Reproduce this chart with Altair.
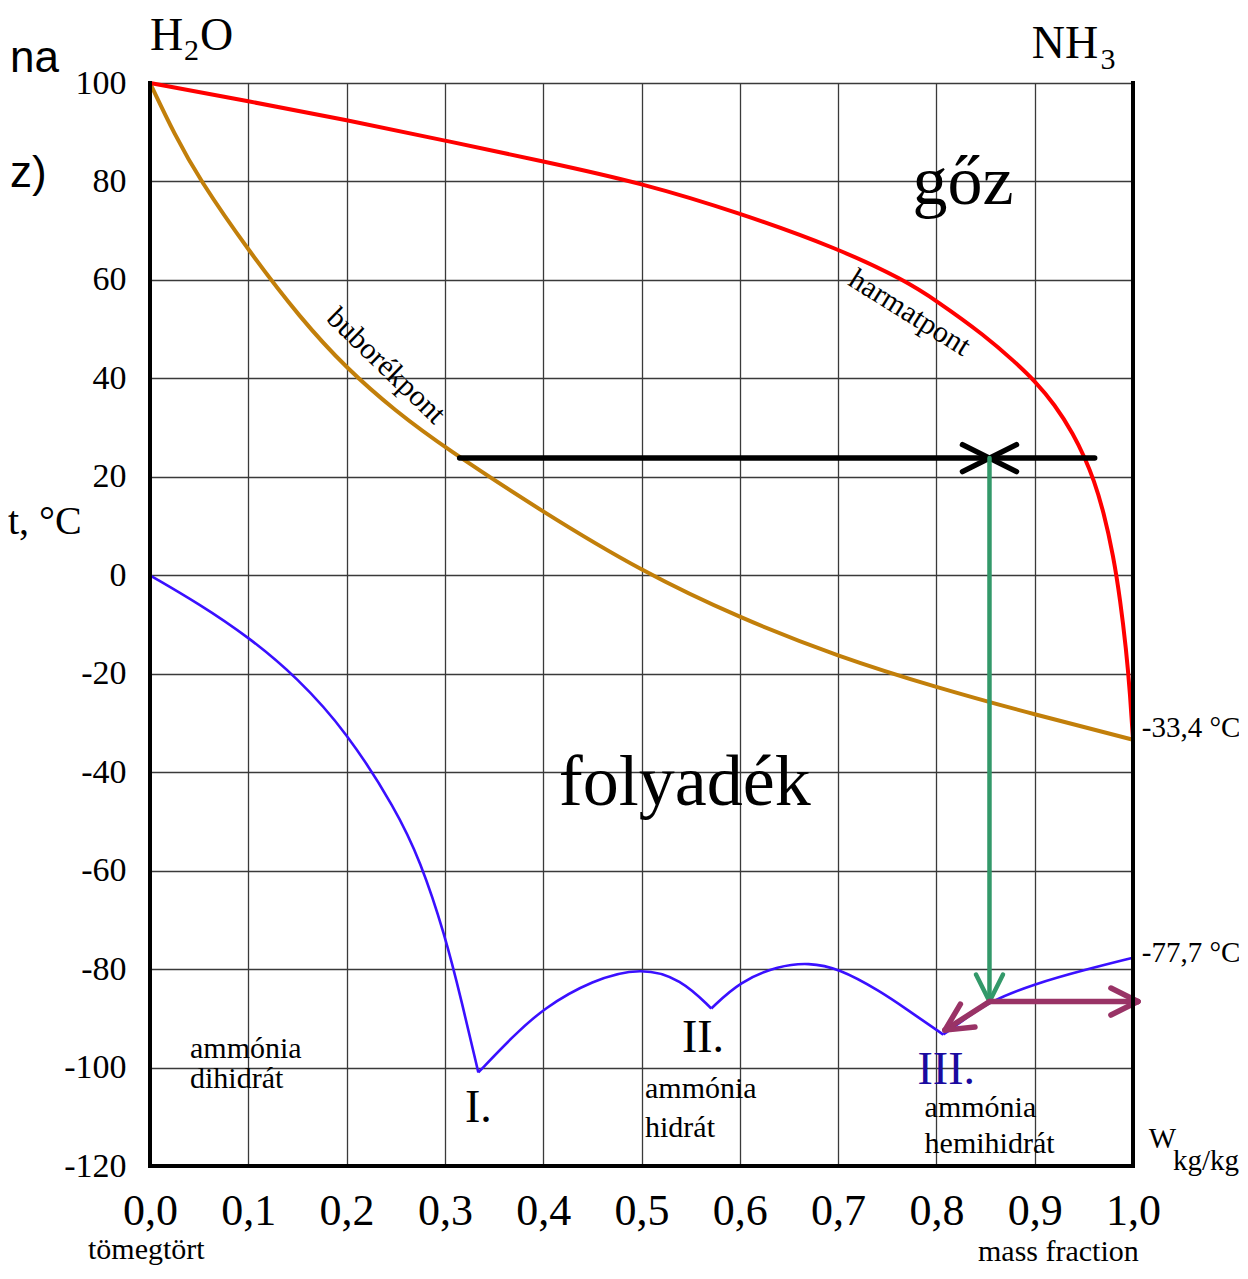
import math
import altair as alt
import pandas as pd

# ---------------- data ----------------
X_TICKS = [0.0, 0.1, 0.2, 0.3, 0.4, 0.5, 0.6, 0.7, 0.8, 0.9, 1.0]
Y_TICKS = [-120, -100, -80, -60, -40, -20, 0, 20, 40, 60, 80, 100]

# dew point curve (harmatpont)
DEW_W = [0.0, 0.1, 0.2, 0.3, 0.4, 0.5, 0.6, 0.7, 0.767, 0.8, 0.85, 0.88, 0.9, 0.92, 0.94, 0.951, 0.96,
         0.97, 0.98, 0.987, 0.993, 0.997, 1.0]
DEW_T = [100, 96.3, 92.5, 88.3, 84.1, 79.7, 73.6, 66.4, 60, 55.8, 48.6, 43.3, 39.5, 34.8, 28.5, 23.8, 19.5,
         13, 4, -5, -15, -24, -33.4]

# bubble point curve (buborékpont)
BUB_W = [0.0, 0.025, 0.05, 0.1, 0.153, 0.2, 0.25, 0.3, 0.4, 0.5, 0.6, 0.7, 0.8, 0.9, 1.0]
BUB_T = [100, 89.5, 80.5, 66.0, 52.2, 42.0, 33.3, 25.9, 12.8, 0.8, -8.7, -16.5, -22.8, -28.3, -33.4]

# freezing curve, four branches
FRZ1_W = [0.0, 0.05, 0.1, 0.15, 0.2, 0.25, 0.275, 0.3, 0.317, 0.334]
FRZ1_T = [0, -5.8, -12.5, -20.8, -31.8, -47.5, -58, -73, -86.5, -101]
FRZ2_W = [0.334, 0.37, 0.4, 0.45, 0.5, 0.54, 0.571]
FRZ2_T = [-101, -93.5, -88, -82.2, -79.6, -82.0, -88]
FRZ3_W = [0.571, 0.6, 0.64, 0.67, 0.7, 0.743, 0.77, 0.807]
FRZ3_T = [-88, -82.5, -79.3, -78.7, -79.8, -84.5, -88.2, -93.3]
FRZ4_W = [0.807, 0.83, 0.854, 0.9, 0.95, 1.0]
FRZ4_T = [-93.3, -90, -86.6, -83, -80.2, -77.7]

# process arrows: (start_w, start_t, tip_w, tip_t)
BLACK_ARROWS = [(0.315, 23.8, 0.854, 23.8), (0.961, 23.8, 0.854, 23.8)]
GREEN_ARROWS = [(0.854, 23.8, 0.854, -86.6)]
PURPLE_ARROWS = [(0.854, -86.6, 1.005, -86.6), (0.854, -86.6, 0.8087, -92.4)]

# ---------------- geometry helpers ----------------
PLOT_W = 983
PLOT_H = 1083
X_DOM = [0.0, 1.0]
Y_DOM = [-120, 100]


def to_px(w, t):
    return w * PLOT_W, -(t - Y_DOM[0]) * PLOT_H / (Y_DOM[1] - Y_DOM[0])


def from_px(px, py):
    return px / PLOT_W, Y_DOM[0] - py * (Y_DOM[1] - Y_DOM[0]) / PLOT_H


def arrow_segments(arrows, length=27, half=13.5):
    rows = []
    for (sw, st, ew, et) in arrows:
        rows.append(dict(x=sw, y=st, x2=ew, y2=et))
        sx, sy = to_px(sw, st)
        tx, ty = to_px(ew, et)
        dx, dy = tx - sx, ty - sy
        L = math.hypot(dx, dy)
        ux, uy = dx / L, dy / L
        bx, by = tx - ux * length, ty - uy * length
        nx, ny = -uy, ux
        for sgn in (1, -1):
            aw, at = from_px(bx + sgn * nx * half, by + sgn * ny * half)
            rows.append(dict(x=aw, y=at, x2=ew, y2=et))
    return pd.DataFrame(rows)


SERIF = "Liberation Serif"
SANS = "Liberation Sans"

xs = alt.Scale(domain=X_DOM, nice=False, zero=False)
ys = alt.Scale(domain=Y_DOM, nice=False, zero=False)

AX_X = alt.Axis(
    values=X_TICKS, labelExpr="replace(format(datum.value, '.1f'), '.', ',')",
    labelFont=SERIF, labelFontSize=44, labelColor="black", labelPadding=23,
    labelFlush=False, labelOverlap=False, grid=True, gridColor="#3a3a3a",
    gridWidth=1.3, domain=False, ticks=False, title=None)
AX_Y = alt.Axis(
    values=Y_TICKS, labelExpr="'' + datum.value",
    labelFont=SERIF, labelFontSize=34, labelColor="black", labelPadding=24,
    labelFlush=False, labelOverlap=False, grid=True, gridColor="#3a3a3a",
    gridWidth=1.3, domain=False, ticks=False, title=None)


def X(field):
    return alt.X(field, type="quantitative", scale=xs, axis=AX_X, title=None)


def Y(field):
    return alt.Y(field, type="quantitative", scale=ys, axis=AX_Y, title=None)


def curve(ws, ts, color, width):
    df = pd.DataFrame({"w": ws, "t": ts})
    return alt.Chart(df).mark_line(color=color, strokeWidth=width, interpolate="basis").encode(
        x=X("w"), y=Y("t"))


layers = []
layers.append(curve(BUB_W, BUB_T, "#c27f0a", 4))
layers.append(curve(DEW_W, DEW_T, "#ff0000", 4))
for ws, ts in [(FRZ1_W, FRZ1_T), (FRZ2_W, FRZ2_T), (FRZ3_W, FRZ3_T), (FRZ4_W, FRZ4_T)]:
    layers.append(curve(ws, ts, "#3a10ff", 2.6))


def segs_layer(df, color, width, cap="round"):
    return alt.Chart(df).mark_rule(color=color, strokeWidth=width, strokeCap=cap).encode(
        x=X("x"), y=Y("y"), x2="x2:Q", y2="y2:Q")


layers.append(segs_layer(arrow_segments(BLACK_ARROWS), "#000000", 5.5))
layers.append(segs_layer(arrow_segments(GREEN_ARROWS), "#33996a", 4.5))
layers.append(segs_layer(arrow_segments(PURPLE_ARROWS), "#993366", 5.5))

# frame borders (left, right, bottom)
border_df = pd.DataFrame([
    dict(x=X_DOM[0], y=Y_DOM[0], x2=X_DOM[0], y2=Y_DOM[1]),
    dict(x=X_DOM[1], y=Y_DOM[0], x2=X_DOM[1], y2=Y_DOM[1]),
    dict(x=X_DOM[0], y=Y_DOM[0], x2=X_DOM[1], y2=Y_DOM[0]),
])
layers.append(segs_layer(border_df, "black", 4, cap="square"))

# ---------------- annotations ----------------
ANNOT = [
    # text, w, t, size, align, baseline, angle, color, font
    ("H", 0.0, 106.7, 46, "left", "alphabetic", 0, "black", SERIF),
    ("2", 0.0346, 104.6, 30, "left", "alphabetic", 0, "black", SERIF),
    ("O", 0.0509, 106.7, 46, "left", "alphabetic", 0, "black", SERIF),
    ("NH", 0.897, 105.0, 46, "left", "alphabetic", 0, "black", SERIF),
    ("3", 0.9670, 102.8, 30, "left", "alphabetic", 0, "black", SERIF),
    ("gőz", 0.827, 75.5, 70, "center", "alphabetic", 0, "black", SERIF),
    ("folyadék", 0.544, -46.7, 72, "center", "alphabetic", 0, "black", SERIF),
    ("buborékpont", 0.240, 42.5, 30, "center", "middle", 44, "black", SERIF),
    ("harmatpont", 0.7727, 53.3, 30, "center", "middle", 32, "black", SERIF),
    ("I.", 0.334, -111.1, 46, "center", "alphabetic", 0, "black", SERIF),
    ("II.", 0.5626, -96.8, 46, "center", "alphabetic", 0, "black", SERIF),
    ("III.", 0.81, -103.4, 46, "center", "alphabetic", 0, "#1a0aa0", SERIF),
    ("ammónia", 0.0407, -98.1, 30, "left", "alphabetic", 0, "black", SERIF),
    ("dihidrát", 0.0407, -104.2, 30, "left", "alphabetic", 0, "black", SERIF),
    ("ammónia", 0.5036, -106.2, 30, "left", "alphabetic", 0, "black", SERIF),
    ("hidrát", 0.5036, -114.1, 30, "left", "alphabetic", 0, "black", SERIF),
    ("ammónia", 0.788, -110.0, 30, "left", "alphabetic", 0, "black", SERIF),
    ("hemihidrát", 0.788, -117.3, 30, "left", "alphabetic", 0, "black", SERIF),
    ("-33,4 °C", 1.009, -31.0, 29, "left", "middle", 0, "black", SERIF),
    ("-77,7 °C", 1.009, -76.7, 29, "left", "middle", 0, "black", SERIF),
    ("W", 1.016, -116.3, 29, "left", "alphabetic", 0, "black", SERIF),
    ("kg/kg", 1.0407, -120.8, 29, "left", "alphabetic", 0, "black", SERIF),
    ("t, °C", -0.1445, 10.8, 40, "left", "middle", 0, "black", SERIF),
    ("tömegtört", -0.0631, -138.9, 30, "left", "alphabetic", 0, "black", SERIF),
    ("mass fraction", 0.8423, -139.3, 30, "left", "alphabetic", 0, "black", SERIF),
    ("na", -0.1425, 102.2, 44, "left", "alphabetic", 0, "black", SANS),
    ("z)", -0.1425, 78.9, 44, "left", "alphabetic", 0, "black", SANS),
]

for (txt, w, t, size, align, baseline, angle, color, font) in ANNOT:
    df = pd.DataFrame({"w": [w], "t": [t], "label": [txt]})
    layers.append(alt.Chart(df).mark_text(
        font=font, fontSize=size, align=align, baseline=baseline, angle=angle, color=color
    ).encode(x=X("w"), y=Y("t"), text="label:N"))

chart = alt.layer(*layers).properties(
    width=PLOT_W, height=PLOT_H,
    padding={"left": 142, "top": 75, "right": 106, "bottom": 100},
    autosize=alt.AutoSizeParams(type="none"),
    background="white",
).configure_view(stroke=None)

chart.save("out.html", embed_options={"renderer": "svg", "actions": False})
